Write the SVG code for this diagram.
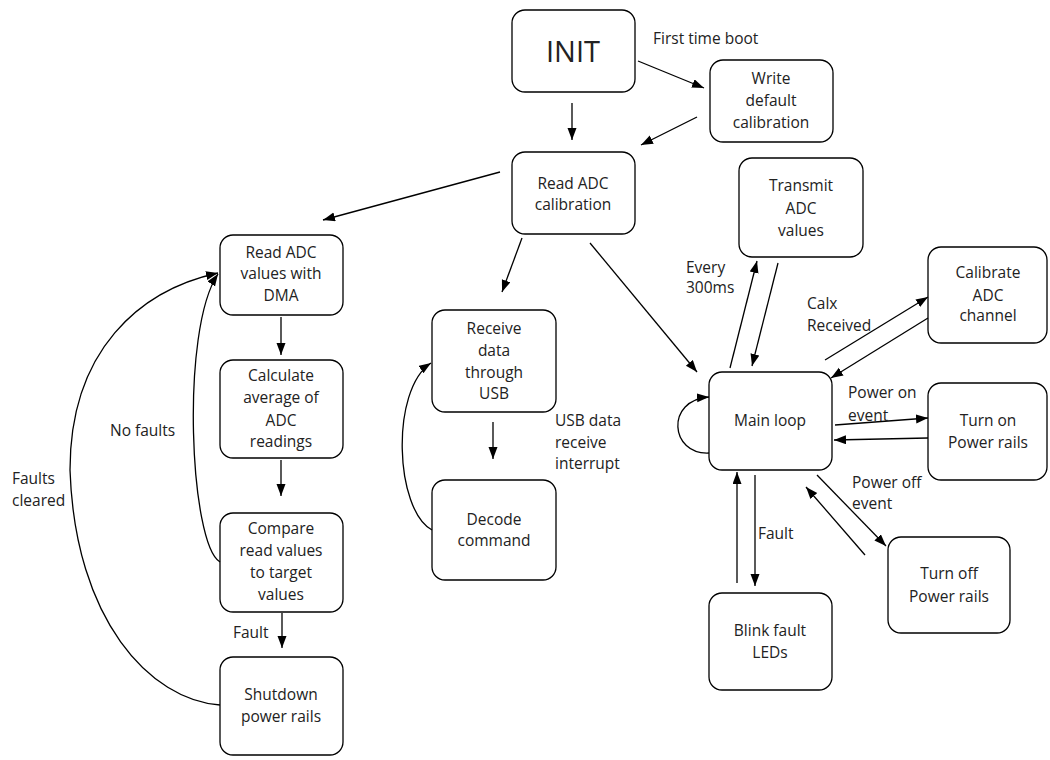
<svg xmlns="http://www.w3.org/2000/svg" width="1050" height="760" viewBox="0 0 1050 760">
<defs>
<marker id="ah" markerUnits="userSpaceOnUse" markerWidth="13" markerHeight="10" refX="12" refY="4.5" orient="auto"><path d="M0,0 L12,4.5 L0,9 z" fill="#000"/></marker>
<style>
.n rect{fill:#fff;stroke:#000;stroke-width:1.3}
text{font-family:"Open Sans","Noto Sans",sans-serif;font-size:15.5px;fill:#222;text-anchor:middle}
.l{text-anchor:start}
#conn path,#conn line{fill:none;stroke:#000;stroke-width:1.3;marker-end:url(#ah)}
</style>
</defs>
<rect width="1050" height="760" fill="#fff"/>
<g id="n-init" class="n"><rect x="512" y="10" width="123" height="82" rx="13"/><text x="573" y="62" style="font-size:29px">INIT</text></g>
<g id="n-write" class="n"><rect x="710" y="60" width="123" height="82" rx="13"/><text x="771" y="84">Write</text><text x="771" y="106">default</text><text x="771" y="128">calibration</text></g>
<g id="n-readcal" class="n"><rect x="512" y="152" width="123" height="82" rx="13"/><text x="573" y="189">Read ADC</text><text x="573" y="210">calibration</text></g>
<g id="n-transmit" class="n"><rect x="739" y="158" width="124" height="99" rx="13"/><text x="801" y="191">Transmit</text><text x="801" y="214">ADC</text><text x="801" y="236">values</text></g>
<g id="n-calibrate" class="n"><rect x="928" y="247" width="119" height="96" rx="13"/><text x="988" y="278">Calibrate</text><text x="988" y="301">ADC</text><text x="988" y="321">channel</text></g>
<g id="n-main" class="n"><rect x="709" y="372" width="123" height="98" rx="13"/><text x="770" y="426">Main loop</text></g>
<g id="n-turnon" class="n"><rect x="928" y="383" width="119" height="97" rx="13"/><text x="988" y="426">Turn on</text><text x="988" y="448">Power rails</text></g>
<g id="n-turnoff" class="n"><rect x="888" y="537" width="122" height="96" rx="13"/><text x="949" y="579">Turn off</text><text x="949" y="602">Power rails</text></g>
<g id="n-blink" class="n"><rect x="709" y="593" width="123" height="97" rx="13"/><text x="770" y="636">Blink fault</text><text x="770" y="658">LEDs</text></g>
<g id="n-readdma" class="n"><rect x="220" y="235" width="123" height="80" rx="13"/><text x="281" y="258">Read ADC</text><text x="281" y="279">values with</text><text x="281" y="301">DMA</text></g>
<g id="n-calc" class="n"><rect x="220" y="360" width="123" height="98" rx="13"/><text x="281" y="381">Calculate</text><text x="281" y="403">average of</text><text x="281" y="426">ADC</text><text x="281" y="447">readings</text></g>
<g id="n-compare" class="n"><rect x="220" y="513" width="123" height="99" rx="13"/><text x="281" y="534">Compare</text><text x="281" y="556">read values</text><text x="281" y="578">to target</text><text x="281" y="600">values</text></g>
<g id="n-shutdown" class="n"><rect x="220" y="657" width="123" height="98" rx="13"/><text x="281" y="700">Shutdown</text><text x="281" y="722">power rails</text></g>
<g id="n-receive" class="n"><rect x="432" y="310" width="124" height="102" rx="13"/><text x="494" y="334">Receive</text><text x="494" y="356">data</text><text x="494" y="378">through</text><text x="494" y="399">USB</text></g>
<g id="n-decode" class="n"><rect x="432" y="480" width="124" height="100" rx="13"/><text x="494" y="525">Decode</text><text x="494" y="546">command</text></g>
<g id="conn">
<line x1="572" y1="103" x2="572" y2="140"/>
<line x1="638" y1="61" x2="704" y2="88"/>
<line x1="697" y1="117" x2="641" y2="145"/>
<line x1="500" y1="172" x2="323" y2="220"/>
<line x1="522" y1="238" x2="502" y2="292"/>
<line x1="590" y1="243" x2="697" y2="372"/>
<line x1="281" y1="317" x2="281" y2="355"/>
<line x1="281" y1="460" x2="281" y2="496"/>
<line x1="282" y1="613" x2="282" y2="648"/>
<path d="M220,562 C190,545 180,330 218,274"/>
<path d="M220,705 C150,700 75,620 70,470 C70,350 140,290 218,273"/>
<line x1="493" y1="422" x2="493" y2="459"/>
<path d="M432,530 C395,510 390,390 431,363"/>
<line x1="730" y1="368" x2="757" y2="261"/>
<line x1="778" y1="263" x2="752" y2="366"/>
<line x1="825" y1="360" x2="928" y2="297"/>
<line x1="928" y1="318" x2="831" y2="378"/>
<line x1="835" y1="425" x2="928" y2="418"/>
<line x1="928" y1="438" x2="834" y2="440"/>
<line x1="817" y1="475" x2="886" y2="546"/>
<line x1="865" y1="555" x2="806" y2="487"/>
<line x1="755" y1="475" x2="755" y2="586"/>
<line x1="737" y1="583" x2="737" y2="472"/>
<path d="M709,453 C670,455 665,400 709,397"/>
</g>
<g id="labels">
<text class="l" x="653" y="44">First time boot</text>
<text class="l" x="110" y="436">No faults</text>
<text class="l" x="12" y="484">Faults</text>
<text class="l" x="12" y="506">cleared</text>
<text class="l" x="233" y="638">Fault</text>
<text class="l" x="555" y="426">USB data</text>
<text class="l" x="555" y="448">receive</text>
<text class="l" x="555" y="469">interrupt</text>
<text class="l" x="686" y="273">Every</text>
<text class="l" x="686" y="293">300ms</text>
<text class="l" x="807" y="309">Calx</text>
<text class="l" x="807" y="331">Received</text>
<text class="l" x="848" y="398">Power on</text>
<text class="l" x="848" y="421">event</text>
<text class="l" x="852" y="488">Power off</text>
<text class="l" x="852" y="509">event</text>
<text class="l" x="758" y="539">Fault</text>
</g>
</svg>
